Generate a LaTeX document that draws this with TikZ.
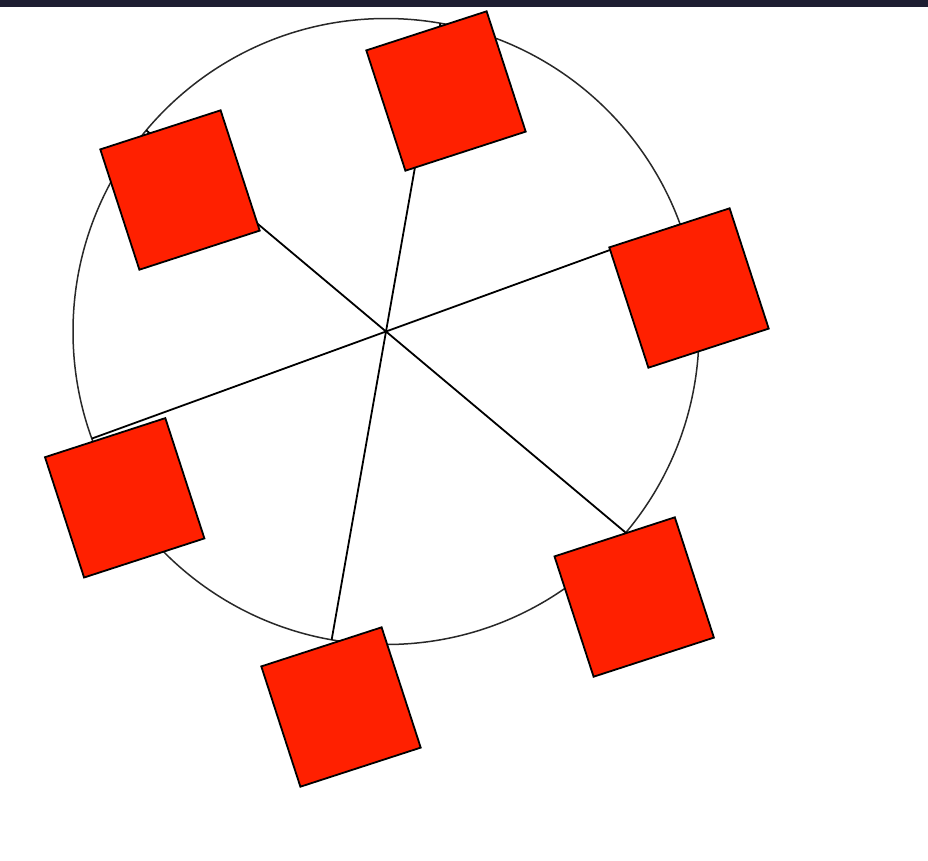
\documentclass[tikz,border=0pt]{standalone}
\usepackage{tikz}
\usetikzlibrary{calc}
\definecolor{sqred}{RGB}{255,32,0}
\definecolor{topbar}{RGB}{30,30,50}
\definecolor{ringgray}{RGB}{40,40,40}
\tikzset{
  redsq/.style={draw=black, line width=1.8pt, fill=sqred, rectangle, rotate=18,
    minimum size=126.5pt, inner sep=0pt},
  spoke/.style={draw=black, line width=1.8pt},
  ring/.style={draw=ringgray, line width=1.5pt}
}
\begin{document}
\begin{tikzpicture}[x=1pt,y=-1pt]
\useasboundingbox (0,0) rectangle (928,860);
\fill[white] (0,0) rectangle (928,860);
\fill[topbar] (0,0) rectangle (928,6.5);
\coordinate (c) at (386,331.5);
\draw[ring] (c) circle (313);
\foreach \a [count=\i] in {-20,-80,-140,-200,-260,-320} {
  \coordinate (p\i) at ($(c)+(\a:313)$);
}
\foreach \i in {1,...,6} { \draw[spoke] (c) -- (p\i); }
\node[redsq] (s1) at (446,91) {};
\node[redsq] (s2) at (180,190) {};
\node[redsq] (s3) at (689,288) {};
\node[redsq] (s4) at (124.7,497.8) {};
\node[redsq] (s5) at (634.2,597) {};
\node[redsq] (s6) at (341,707) {};
\end{tikzpicture}
\end{document}
